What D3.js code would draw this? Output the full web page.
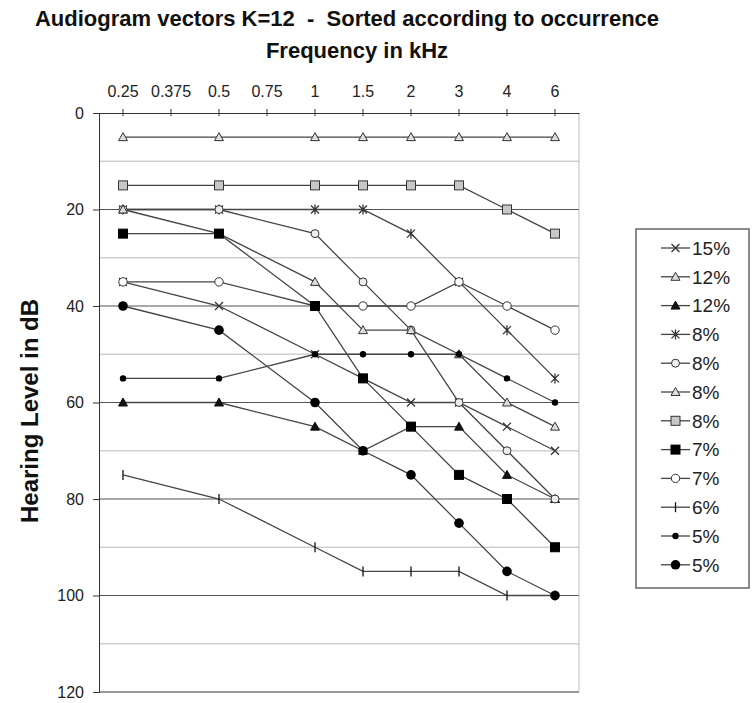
<!DOCTYPE html>
<html><head><meta charset="utf-8">
<script src="https://cdn.jsdelivr.net/npm/d3@7"></script>
<style>body{margin:0;background:#fff}svg{display:block}</style>
</head><body>
<svg id="chart" width="752" height="703"></svg>
<script>
const categories = ["0.25","0.375","0.5","0.75","1","1.5","2","3","4","6"];
const yTicks = [0,20,40,60,80,100,120];
const labels = ["15%","12%","12%","8%","8%","8%","8%","7%","7%","6%","5%","5%"];
const markers = ["x","triOpen","triFill","star","circSmall","triOpen","square","squareFill","circOpen","tick","dotSmall","dot"];
const s1  = [35,null,40,null,50,55,60,60,65,70];
const s2  = [5,null,5,null,5,5,5,5,5,5];
const s3  = [60,null,60,null,65,70,65,65,75,80];
const s4  = [20,null,20,null,20,20,25,35,45,55];
const s5  = [20,null,20,null,25,35,45,60,70,80];
const s6  = [20,null,25,null,35,45,45,50,60,65];
const s7  = [15,null,15,null,15,15,15,15,20,25];
const s8  = [25,null,25,null,40,55,65,75,80,90];
const s9  = [35,null,35,null,40,40,40,35,40,45];
const s10 = [75,null,80,null,90,95,95,95,100,100];
const s11 = [55,null,55,null,50,50,50,50,55,60];
const s12 = [40,null,45,null,60,70,75,85,95,100];
const seriesValues = [s1,s2,s3,s4,s5,s6,s7,s8,s9,s10,s11,s12];
const drawOrder = [0,1,2,3,4,5,6,8,7,9,10,11];

const svg = d3.select("#chart");
const L=99,R=579,T=113,B=692;
const xb = d3.scaleBand().domain(categories).range([L,R]);
const x = c => xb(c)+xb.bandwidth()/2;
const y = d3.scaleLinear().domain([0,120]).range([T,B]);
const font = "'Liberation Sans', Arial, sans-serif";
const narrow = "'Liberation Sans Narrow', 'Liberation Sans', Arial, sans-serif";

// gridlines
const minor = d3.range(10,120,20);
svg.append("g").selectAll("line").data(minor).join("line")
  .attr("x1",L).attr("x2",R).attr("y1",d=>y(d)).attr("y2",d=>y(d))
  .attr("stroke","#cfcfcf").attr("stroke-width",1.6);
svg.append("g").selectAll("line").data([20,40,60,80,100]).join("line")
  .attr("x1",L).attr("x2",R).attr("y1",d=>y(d)).attr("y2",d=>y(d))
  .attr("stroke","#555").attr("stroke-width",1.1);
svg.append("line").attr("x1",L).attr("x2",R).attr("y1",y(120)).attr("y2",y(120))
  .attr("stroke","#999").attr("stroke-width",2);
svg.append("line").attr("x1",R).attr("x2",R).attr("y1",T).attr("y2",B)
  .attr("stroke","#bbb").attr("stroke-width",1);

// axes
const yAxis = d3.axisLeft(y).tickValues(yTicks).tickSize(6).tickPadding(9);
const gy = svg.append("g").attr("transform",`translate(${L},0)`).call(yAxis);
gy.select(".domain").attr("stroke","#333");
gy.selectAll(".tick line").attr("stroke","#333");
gy.selectAll("text").attr("font-family",font).attr("font-size",16).attr("fill","#222");

const xAxis = d3.axisTop(xb).tickSize(4).tickPadding(12).tickSizeOuter(0);
const gx = svg.append("g").attr("transform",`translate(0,${T})`).call(xAxis);
gx.select(".domain").attr("stroke","#333").attr("stroke-width",1.2);
gx.selectAll(".tick line").attr("stroke","#333").attr("y2",3).attr("y1",-4);
gx.selectAll("text").attr("font-family",narrow).attr("font-size",16).attr("fill","#222");

// titles
svg.append("text").attr("x",347).attr("y",26).attr("text-anchor","middle")
  .attr("font-family",font).attr("font-weight","bold").attr("font-size",22)
  .attr("fill","#111").attr("xml:space","preserve").style("white-space","pre")
  .text("Audiogram vectors K=12  -  Sorted according to occurrence");
svg.append("text").attr("x",357).attr("y",58).attr("text-anchor","middle")
  .attr("font-family",font).attr("font-weight","bold").attr("font-size",22)
  .attr("fill","#111").text("Frequency in kHz");
svg.append("text").attr("transform",`translate(38,411) rotate(-90)`).attr("text-anchor","middle")
  .attr("font-family",font).attr("font-weight","bold").attr("font-size",24)
  .attr("fill","#111").text("Hearing Level in dB");

function drawMarker(g, type, cx, cy){
  const st = "#333";
  switch(type){
    case "x":
      g.append("path").attr("d",`M${cx-4},${cy-4}L${cx+4},${cy+4}M${cx-4},${cy+4}L${cx+4},${cy-4}`).attr("stroke",st).attr("stroke-width",1.3).attr("fill","none"); break;
    case "star":
      g.append("path").attr("d",`M${cx-4},${cy-4}L${cx+4},${cy+4}M${cx-4},${cy+4}L${cx+4},${cy-4}M${cx},${cy-5}L${cx},${cy+5}`).attr("stroke",st).attr("stroke-width",1.3).attr("fill","none"); break;
    case "triOpen":
      g.append("path").attr("d",`M${cx},${cy-4.5}L${cx+4.5},${cy+3.5}L${cx-4.5},${cy+3.5}Z`).attr("fill","#ddd").attr("stroke",st).attr("stroke-width",1); break;
    case "triFill":
      g.append("path").attr("d",`M${cx},${cy-4.5}L${cx+4.5},${cy+3.5}L${cx-4.5},${cy+3.5}Z`).attr("fill","#111").attr("stroke","#111").attr("stroke-width",1); break;
    case "circSmall":
      g.append("circle").attr("cx",cx).attr("cy",cy).attr("r",4).attr("fill","#eee").attr("stroke",st).attr("stroke-width",1); break;
    case "circOpen":
      g.append("circle").attr("cx",cx).attr("cy",cy).attr("r",4.2).attr("fill","#fff").attr("stroke",st).attr("stroke-width",1); break;
    case "square":
      g.append("rect").attr("x",cx-4.5).attr("y",cy-4.5).attr("width",9).attr("height",9).attr("fill","#c8c8c8").attr("stroke",st).attr("stroke-width",1); break;
    case "squareFill":
      g.append("rect").attr("x",cx-4.5).attr("y",cy-4.5).attr("width",9).attr("height",9).attr("fill","#000").attr("stroke","#000").attr("stroke-width",1); break;
    case "tick":
      g.append("path").attr("d",`M${cx},${cy-5}L${cx},${cy+5}`).attr("stroke","#111").attr("stroke-width",1.3); break;
    case "dotSmall":
      g.append("circle").attr("cx",cx).attr("cy",cy).attr("r",3.2).attr("fill","#000"); break;
    case "dot":
      g.append("circle").attr("cx",cx).attr("cy",cy).attr("r",4.8).attr("fill","#000"); break;
  }
}

const line = d3.line().x(d=>x(d.c)).y(d=>y(d.v));
const series = seriesValues.map((vals,i)=>({
  label:labels[i], marker:markers[i],
  pts: vals.map((v,j)=>({c:categories[j],v})).filter(p=>p.v!==null)
}));
const plot = svg.append("g");
series.forEach(s=>{
  plot.append("path").attr("d",line(s.pts)).attr("fill","none").attr("stroke","#444").attr("stroke-width",1.3);
});
drawOrder.forEach(i=>{
  const s = series[i];
  const g = plot.append("g");
  s.pts.forEach(p=>drawMarker(g,s.marker,x(p.c),y(p.v)));
});

// legend
const lg = svg.append("g");
lg.append("rect").attr("x",636).attr("y",229).attr("width",113).attr("height",359)
  .attr("fill","#fff").attr("stroke","#666").attr("stroke-width",1.5);
series.forEach((s,i)=>{
  const ly = 248 + i*28.8;
  lg.append("line").attr("x1",661).attr("x2",690).attr("y1",ly).attr("y2",ly).attr("stroke","#444").attr("stroke-width",1.3);
  drawMarker(lg,s.marker,675.5,ly);
  lg.append("text").attr("x",692).attr("y",ly).attr("dy","0.36em")
    .attr("font-family",font).attr("font-size",19).attr("fill","#222").text(s.label);
});
</script>
</body></html>
